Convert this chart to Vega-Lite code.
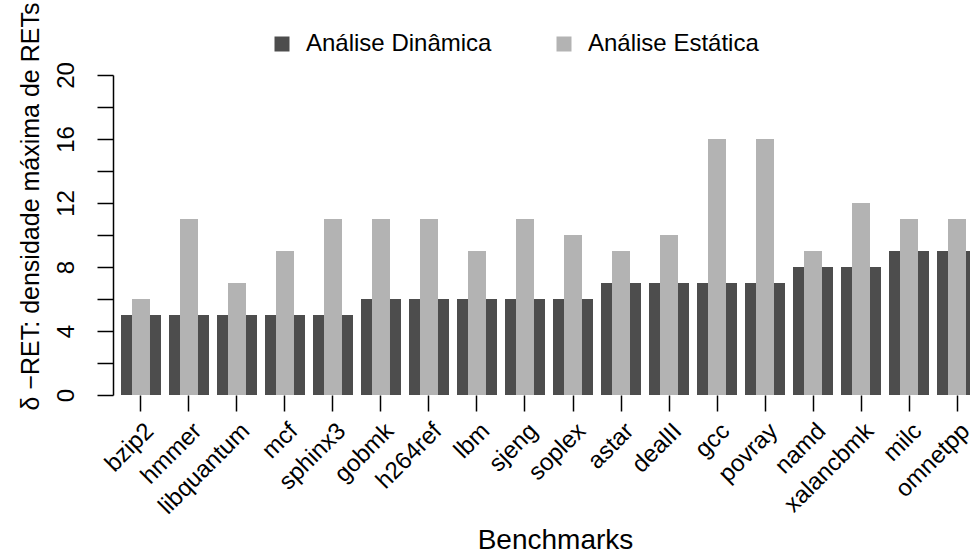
{
  "$schema": "https://vega.github.io/schema/vega-lite/v6.json",
  "autosize": "none",
  "width": 857,
  "height": 320,
  "padding": {"left": 113, "top": 75, "right": 0, "bottom": 158},
  "background": "white",
  "config": {
    "view": {"stroke": null},
    "font": "Liberation Sans",
    "axis": {"labelFont": "Liberation Sans", "titleFont": "Liberation Sans", "labelColor": "black", "titleColor": "black", "domainColor": "black", "tickColor": "black", "labelFontSize": 24, "titleFontSize": 25, "titleFontWeight": "normal", "grid": false, "domainWidth": 1.5, "tickWidth": 1.5},
    "legend": {"labelFont": "Liberation Sans", "labelFontSize": 24, "labelColor": "black", "labelLimit": 0}
  },
  "data": {"values": [
    {"benchmark": "bzip2", "tipo": "Análise Dinâmica", "valor": 5},
    {"benchmark": "hmmer", "tipo": "Análise Dinâmica", "valor": 5},
    {"benchmark": "libquantum", "tipo": "Análise Dinâmica", "valor": 5},
    {"benchmark": "mcf", "tipo": "Análise Dinâmica", "valor": 5},
    {"benchmark": "sphinx3", "tipo": "Análise Dinâmica", "valor": 5},
    {"benchmark": "gobmk", "tipo": "Análise Dinâmica", "valor": 6},
    {"benchmark": "h264ref", "tipo": "Análise Dinâmica", "valor": 6},
    {"benchmark": "lbm", "tipo": "Análise Dinâmica", "valor": 6},
    {"benchmark": "sjeng", "tipo": "Análise Dinâmica", "valor": 6},
    {"benchmark": "soplex", "tipo": "Análise Dinâmica", "valor": 6},
    {"benchmark": "astar", "tipo": "Análise Dinâmica", "valor": 7},
    {"benchmark": "dealII", "tipo": "Análise Dinâmica", "valor": 7},
    {"benchmark": "gcc", "tipo": "Análise Dinâmica", "valor": 7},
    {"benchmark": "povray", "tipo": "Análise Dinâmica", "valor": 7},
    {"benchmark": "namd", "tipo": "Análise Dinâmica", "valor": 8},
    {"benchmark": "xalancbmk", "tipo": "Análise Dinâmica", "valor": 8},
    {"benchmark": "milc", "tipo": "Análise Dinâmica", "valor": 9},
    {"benchmark": "omnetpp", "tipo": "Análise Dinâmica", "valor": 9},
    {"benchmark": "bzip2", "tipo": "Análise Estática", "valor": 6},
    {"benchmark": "hmmer", "tipo": "Análise Estática", "valor": 11},
    {"benchmark": "libquantum", "tipo": "Análise Estática", "valor": 7},
    {"benchmark": "mcf", "tipo": "Análise Estática", "valor": 9},
    {"benchmark": "sphinx3", "tipo": "Análise Estática", "valor": 11},
    {"benchmark": "gobmk", "tipo": "Análise Estática", "valor": 11},
    {"benchmark": "h264ref", "tipo": "Análise Estática", "valor": 11},
    {"benchmark": "lbm", "tipo": "Análise Estática", "valor": 9},
    {"benchmark": "sjeng", "tipo": "Análise Estática", "valor": 11},
    {"benchmark": "soplex", "tipo": "Análise Estática", "valor": 10},
    {"benchmark": "astar", "tipo": "Análise Estática", "valor": 9},
    {"benchmark": "dealII", "tipo": "Análise Estática", "valor": 10},
    {"benchmark": "gcc", "tipo": "Análise Estática", "valor": 16},
    {"benchmark": "povray", "tipo": "Análise Estática", "valor": 16},
    {"benchmark": "namd", "tipo": "Análise Estática", "valor": 9},
    {"benchmark": "xalancbmk", "tipo": "Análise Estática", "valor": 12},
    {"benchmark": "milc", "tipo": "Análise Estática", "valor": 11},
    {"benchmark": "omnetpp", "tipo": "Análise Estática", "valor": 11}
  ]},
  "encoding": {
    "x": {
      "field": "benchmark", "type": "nominal", "sort": null,
      "scale": {"type": "band", "range": [4, 868], "paddingInner": 0.16667, "paddingOuter": 0.083333},
      "axis": {
        "title": "Benchmarks", "titleFontSize": 28, "titleX": 442, "titleY": 153, "titleBaseline": "alphabetic", "titleAlign": "center",
        "labelAngle": -45, "labelAlign": "right", "labelBaseline": "middle", "labelOffset": 9, "labelPadding": 16,
        "tickSize": 16, "domain": false, "labelOverlap": false, "labelBound": false, "labelLimit": 0
      }
    },
    "y": {
      "field": "valor", "type": "quantitative",
      "scale": {"domain": [0, 20], "nice": false, "zero": true},
      "axis": {
        "title": "δ −RET: densidade máxima de RETs", "titleAngle": -90, "titleX": -75, "titleY": 131, "titleAlign": "center", "titleBaseline": "alphabetic",
        "values": [0, 2, 4, 6, 8, 10, 12, 14, 16, 18, 20],
        "labelExpr": "datum.value % 4 === 0 ? datum.label : ''",
        "labelAngle": -90, "labelAlign": "center", "labelBaseline": "alphabetic", "labelPadding": 24, "tickSize": 16
      }
    },
    "color": {
      "field": "tipo", "type": "nominal",
      "scale": {"domain": ["Análise Dinâmica", "Análise Estática"], "range": ["#4d4d4d", "#b3b3b3"]},
      "legend": {
        "title": null, "orient": "none", "direction": "horizontal", "legendX": 157, "legendY": -43,
        "symbolType": "square", "symbolSize": 225, "symbolStrokeWidth": 0, "symbolOpacity": 1,
        "labelOffset": 12, "columnPadding": 60, "padding": 0, "labelLimit": 0
      }
    }
  },
  "layer": [
    {
      "transform": [{"filter": "datum.tipo === 'Análise Dinâmica'"}],
      "mark": {"type": "bar"}
    },
    {
      "transform": [{"filter": "datum.tipo === 'Análise Estática'"}],
      "mark": {"type": "bar", "width": {"band": 0.45}}
    },
    {
      "data": {"values": [{}]},
      "mark": {"type": "rule", "color": "black", "strokeWidth": 1.5},
      "encoding": {
        "x": {"datum": "bzip2", "type": "nominal", "bandPosition": 0.5},
        "x2": {"datum": "omnetpp", "bandPosition": 0.5},
        "y": {"datum": 0, "type": "quantitative"},
        "color": {"value": "black"}
      }
    }
  ]
}
